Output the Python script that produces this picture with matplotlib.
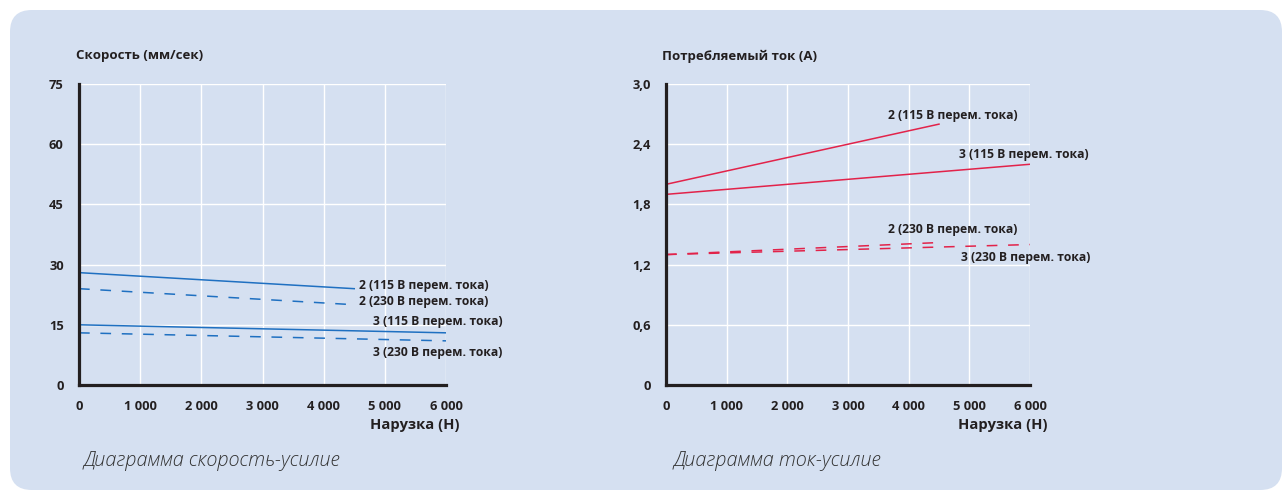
import matplotlib.pyplot as plt
from matplotlib.patches import FancyBboxPatch

# load (N)
load_2 = [0, 4500]
load_3 = [0, 6000]

# speed (mm/s)
speed_2_115 = [28, 24]
speed_2_230 = [24, 20]
speed_3_115 = [15, 13]
speed_3_230 = [13, 11]

# current (A)
curr_2_115 = [2.0, 2.6]
curr_3_115 = [1.9, 2.2]
curr_2_230 = [1.3, 1.42]
curr_3_230 = [1.3, 1.4]

x_ticks = [0, 1000, 2000, 3000, 4000, 5000, 6000]
x_labels = ["0", "1 000", "2 000", "3 000", "4 000", "5 000", "6 000"]
speed_ticks = [0, 15, 30, 45, 60, 75]
speed_labels = ["0", "15", "30", "45", "60", "75"]
curr_ticks = [0, 0.6, 1.2, 1.8, 2.4, 3.0]
curr_labels = ["0", "0,6", "1,2", "1,8", "2,4", "3,0"]

BLUE = "#1f70c1"
RED = "#e2234a"
DARK = "#231f20"
BG = "#d5e0f1"

plt.rcParams["font.family"] = ["Open Sans", "DejaVu Sans"]

fig = plt.figure(figsize=(12.84, 4.92), dpi=100)
fig.patch.set_facecolor("white")

W, H = 1284, 492
# background panel (pixel box 10..1282 x 10..490, measured from top)
box = FancyBboxPatch((10 / W, 2 / H), 1272 / W, 480 / H,
                     boxstyle="round,pad=0,rounding_size=0.017",
                     transform=fig.transFigure, facecolor=BG,
                     edgecolor="none", zorder=-10, mutation_aspect=W / H)
fig.patches.append(box)


def style_axes(ax, yticks, ylabels, ymax):
    ax.set_facecolor("none")
    ax.set_xlim(0, 6000)
    ax.set_ylim(0, ymax)
    ax.set_xticks(x_ticks)
    ax.set_xticklabels(x_labels)
    ax.set_yticks(yticks)
    ax.set_yticklabels(ylabels)
    ax.tick_params(length=0, labelsize=9.3, colors=DARK, pad=11)
    for lab in ax.get_xticklabels() + ax.get_yticklabels():
        lab.set_fontweight("bold")
    ax.grid(color="white", lw=1)
    ax.set_axisbelow(True)
    for s in ["top", "right"]:
        ax.spines[s].set_visible(False)
    for s in ["left", "bottom"]:
        ax.spines[s].set_color(DARK)
        ax.spines[s].set_linewidth(2.3)


def label(ax, x, y, txt, ha="left"):
    ax.text(x, y, txt, ha=ha, va="center", fontsize=8.7, fontweight="bold",
            color=DARK)


# left: speed
ax1 = fig.add_axes([79 / W, 1 - 385 / H, 367 / W, 301 / H])
style_axes(ax1, speed_ticks, speed_labels, 75)
ax1.plot(load_2, speed_2_115, color=BLUE, lw=1.1)
ax1.plot(load_2, speed_2_230, color=BLUE, lw=1.1, dashes=(7, 7))
ax1.plot(load_3, speed_3_115, color=BLUE, lw=1.1)
ax1.plot(load_3, speed_3_230, color=BLUE, lw=1.1, dashes=(7, 7))
label(ax1, 4580, 24.7, "2 (115 В перем. тока)")
label(ax1, 4580, 20.9, "2 (230 В перем. тока)")
label(ax1, 6920, 15.7, "3 (115 В перем. тока)", ha="right")
label(ax1, 6920, 8.2, "3 (230 В перем. тока)", ha="right")

# right: current
ax2 = fig.add_axes([666 / W, 1 - 385 / H, 364 / W, 301 / H])
style_axes(ax2, curr_ticks, curr_labels, 3.0)
ax2.plot(load_2, curr_2_115, color=RED, lw=1.1)
ax2.plot(load_3, curr_3_115, color=RED, lw=1.1)
ax2.plot(load_2, curr_2_230, color=RED, lw=1.1, dashes=(7, 7))
ax2.plot(load_3, curr_3_230, color=RED, lw=1.1, dashes=(7, 7))
label(ax2, 5800, 2.69, "2 (115 В перем. тока)", ha="right")
label(ax2, 6960, 2.30, "3 (115 В перем. тока)", ha="right")
label(ax2, 5800, 1.545, "2 (230 В перем. тока)", ha="right")
label(ax2, 6990, 1.266, "3 (230 В перем. тока)", ha="right")

# titles, x labels, captions
fig.text(76 / W, 1 - 56 / H, "Скорость (мм/сек)", fontsize=9.5,
         fontweight="bold", color=DARK, va="center")
fig.text(662 / W, 1 - 56 / H, "Потребляемый ток (А)", fontsize=9.5,
         fontweight="bold", color=DARK, va="center")
fig.text(459 / W, 1 - 425 / H, "Нарузка (Н)", fontsize=10.6,
         fontweight="bold", color=DARK, ha="right", va="center")
fig.text(1047 / W, 1 - 425 / H, "Нарузка (Н)", fontsize=10.6,
         fontweight="bold", color=DARK, ha="right", va="center")
fig.text(84 / W, 1 - 461 / H, "Диаграмма скорость-усилие", fontsize=14.3,
         style="italic", fontweight="light", color="#333333", va="center")
fig.text(674 / W, 1 - 461 / H, "Диаграмма ток-усилие", fontsize=14.3,
         style="italic", fontweight="light", color="#333333", va="center")

fig.savefig("out.png", dpi=100)
